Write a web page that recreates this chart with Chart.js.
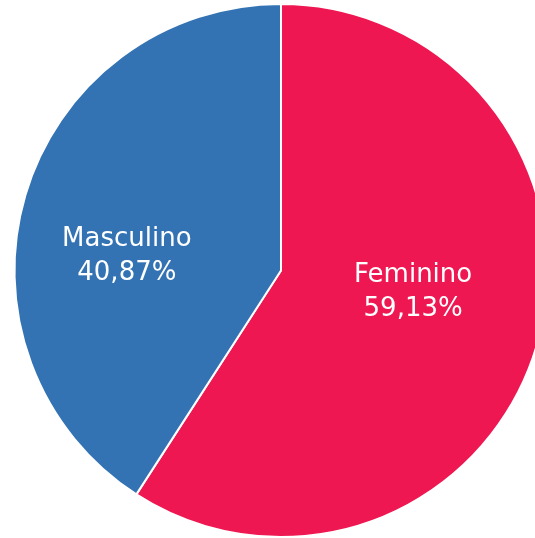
<!DOCTYPE html>
<html lang="pt">
<head>
  <meta charset="UTF-8" />
  <title>Sexo</title>
  <script src="https://cdn.jsdelivr.net/npm/chart.js"></script>
  <style>
    html, body { margin: 0; padding: 0; background: #fff; overflow: hidden; }
    #wrap { width: 562px; height: 538px; }
  </style>
</head>
<body>
<div id="wrap"><canvas id="pie" width="562" height="538"></canvas></div>
<script>
  const categories = ['Feminino', 'Masculino'];
  const shares = [59.13, 40.87];
  const colours = ['#EE1751', '#3373B3'];

  // label sits part way out from the centre, flattened vertically, nudged left
  const sliceLabels = {
    id: 'sliceLabels',
    afterDatasetsDraw(chart) {
      const ctx = chart.ctx;
      const meta = chart.getDatasetMeta(0);
      ctx.save();
      ctx.fillStyle = '#fff';
      ctx.font = '26px "DejaVu Sans", Verdana, sans-serif';
      ctx.textAlign = 'center';
      ctx.textBaseline = 'middle';
      meta.data.forEach((arc, i) => {
        const mid = (arc.startAngle + arc.endAngle) / 2;
        const x = arc.x + Math.cos(mid) * arc.outerRadius * 0.56 - 11;
        const y = arc.y + Math.sin(mid) * arc.outerRadius * 0.24 + 4;
        const pct = shares[i].toFixed(2).replace('.', ',') + '%';
        ctx.fillText(categories[i], x, y - 17);
        ctx.fillText(pct, x, y + 17);
      });
      ctx.restore();
    }
  };

  new Chart(document.getElementById('pie'), {
    type: 'pie',
    data: {
      labels: categories,
      datasets: [{
        data: shares,
        backgroundColor: colours,
        borderColor: '#fff',
        borderWidth: 2
      }]
    },
    options: {
      responsive: false,
      animation: false,
      layout: { padding: { top: 3, bottom: 0 } },
      plugins: { legend: { display: false }, tooltip: { enabled: false } }
    },
    plugins: [sliceLabels]
  });
</script>
</body>
</html>
